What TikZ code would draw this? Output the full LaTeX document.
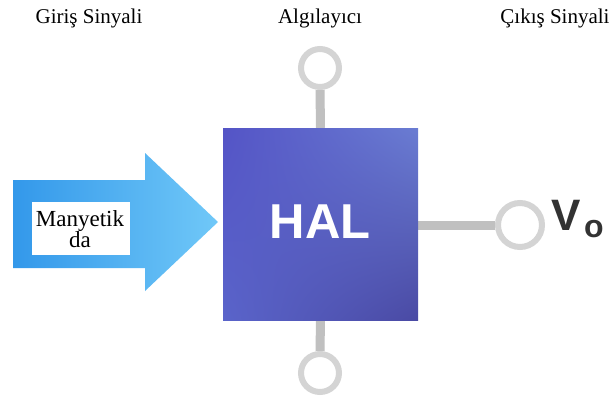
\documentclass[tikz,border=0pt]{standalone}
\usepackage{fontspec}
\setmainfont{Liberation Serif}
\newfontfamily\halfont{Liberation Sans}
\usetikzlibrary{backgrounds,shadings}
\definecolor{boxA}{HTML}{5454C6}
\definecolor{boxB}{HTML}{6A7CD2}
\definecolor{boxC}{HTML}{5A64CA}
\definecolor{boxD}{HTML}{4A4AA4}
\definecolor{arrowL}{HTML}{3398EA}
\definecolor{arrowR}{HTML}{70C8F8}
\definecolor{ringgray}{HTML}{D4D4D4}
\definecolor{stemgray}{HTML}{C0C0C0}
\definecolor{vogray}{HTML}{333333}
\begin{document}
\begin{tikzpicture}[x=1pt,y=-1pt,
  lbl/.style={font=\fontsize{21}{21}\selectfont, inner sep=0},
  ring/.style={circle, draw=ringgray, line width=6pt, inner sep=0},
  stem/.style={draw=stemgray, line width=9pt}]
\useasboundingbox (0,0) rectangle (614,408);
% labels
\node[lbl] (gin) at (89,18) {Giriş Sinyali};
\node[lbl] (alg) at (320,18) {Algılayıcı};
\node[lbl] (cik) at (555,18) {Çıkış Sinyali};
% input arrow
\shade[left color=arrowL, right color=arrowR]
  (13,180) -- (145,180) -- (145,153) -- (218,222) -- (145,291) -- (145,268) -- (13,268) -- cycle;
\node[fill=white, minimum width=98pt, minimum height=53pt, inner sep=0] (lab) at (81,228.5) {};
\node[font=\fontsize{23}{21}\selectfont, align=center, inner sep=0] (labtxt) at (80,229) {Manyetik\\da};
% HAL box
\node[shade, upper left=boxA, upper right=boxB, lower left=boxC, lower right=boxD,
      minimum width=195pt, minimum height=192pt, inner sep=0] (hal) at (320.5,224) {};
\node[text=white, font=\halfont\bfseries\fontsize{49}{49}\selectfont, inner sep=0] (haltxt) at (320,222) {HAL};
% rings
\node[ring, minimum size=38pt] (top) at (320,68) {};
\node[ring, minimum size=38pt] (bot) at (320,373) {};
\node[ring, minimum size=44pt] (out) at (520,225) {};
% output label
\node[text=vogray, font=\halfont\bfseries\fontsize{44}{44}\selectfont, inner sep=0] (vv) at (566,215) {V};
\node[text=vogray, font=\halfont\bfseries\fontsize{32}{32}\selectfont, inner sep=0] (vsub) at (594,229) {o};
% stems
\begin{pgfonlayer}{background}
\fill[white] (0,0) rectangle (614,408);
\draw[stem] (top.south) -- (hal.north);
\draw[stem] (bot.north) -- (hal.south);
\draw[stem] (hal.east |- out.west) -- (out.west);
\end{pgfonlayer}
\end{tikzpicture}
\end{document}
